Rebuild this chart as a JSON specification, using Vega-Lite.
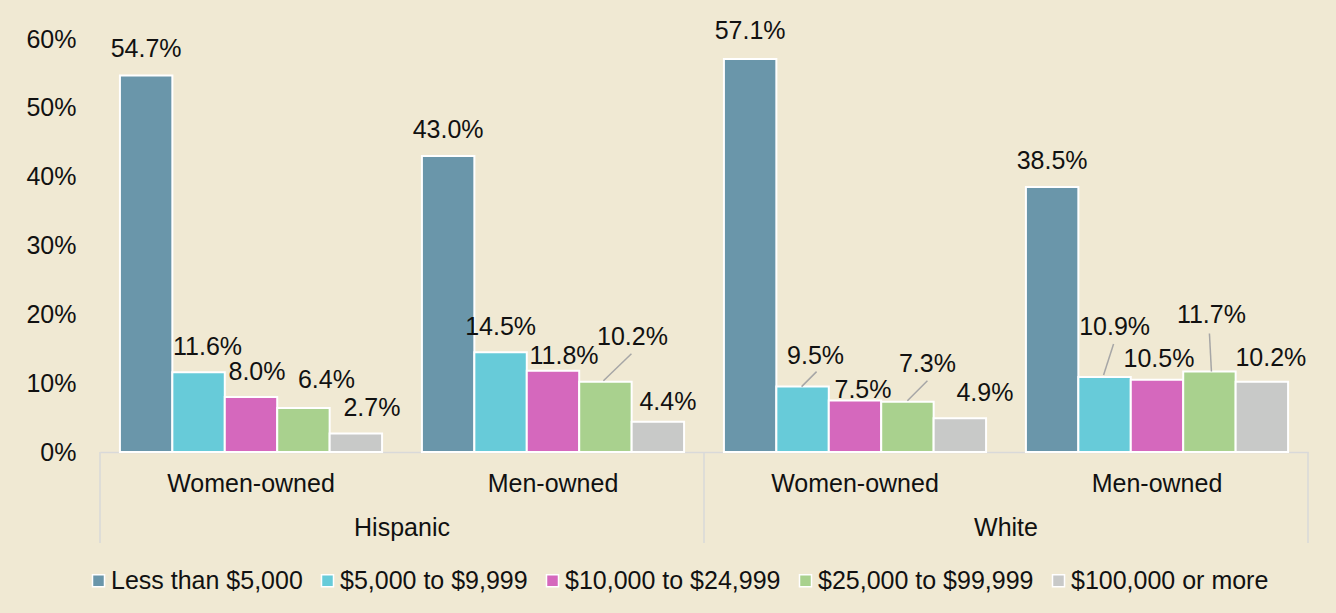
{
  "$schema": "https://vega.github.io/schema/vega-lite/v6.json",
  "width": 1208,
  "height": 413,
  "autosize": {"type": "none"},
  "padding": {"left": 100, "top": 39, "right": 28, "bottom": 161},
  "background": "#F0E9D3",
  "config": {"view": {"stroke": null}, "font": "Liberation Sans"},
  "datasets": {
    "bars": [
      {"id": 0, "race": "Hispanic", "gender": "Women-owned", "group": "Hispanic Women-owned", "income": "Less than $5,000", "value": 0.547},
      {"id": 1, "race": "Hispanic", "gender": "Women-owned", "group": "Hispanic Women-owned", "income": "$5,000 to $9,999", "value": 0.116},
      {"id": 2, "race": "Hispanic", "gender": "Women-owned", "group": "Hispanic Women-owned", "income": "$10,000 to $24,999", "value": 0.080},
      {"id": 3, "race": "Hispanic", "gender": "Women-owned", "group": "Hispanic Women-owned", "income": "$25,000 to $99,999", "value": 0.064},
      {"id": 4, "race": "Hispanic", "gender": "Women-owned", "group": "Hispanic Women-owned", "income": "$100,000 or more", "value": 0.027},
      {"id": 5, "race": "Hispanic", "gender": "Men-owned", "group": "Hispanic Men-owned", "income": "Less than $5,000", "value": 0.430},
      {"id": 6, "race": "Hispanic", "gender": "Men-owned", "group": "Hispanic Men-owned", "income": "$5,000 to $9,999", "value": 0.145},
      {"id": 7, "race": "Hispanic", "gender": "Men-owned", "group": "Hispanic Men-owned", "income": "$10,000 to $24,999", "value": 0.118},
      {"id": 8, "race": "Hispanic", "gender": "Men-owned", "group": "Hispanic Men-owned", "income": "$25,000 to $99,999", "value": 0.102},
      {"id": 9, "race": "Hispanic", "gender": "Men-owned", "group": "Hispanic Men-owned", "income": "$100,000 or more", "value": 0.044},
      {"id": 10, "race": "White", "gender": "Women-owned", "group": "White Women-owned", "income": "Less than $5,000", "value": 0.571},
      {"id": 11, "race": "White", "gender": "Women-owned", "group": "White Women-owned", "income": "$5,000 to $9,999", "value": 0.095},
      {"id": 12, "race": "White", "gender": "Women-owned", "group": "White Women-owned", "income": "$10,000 to $24,999", "value": 0.075},
      {"id": 13, "race": "White", "gender": "Women-owned", "group": "White Women-owned", "income": "$25,000 to $99,999", "value": 0.073},
      {"id": 14, "race": "White", "gender": "Women-owned", "group": "White Women-owned", "income": "$100,000 or more", "value": 0.049},
      {"id": 15, "race": "White", "gender": "Men-owned", "group": "White Men-owned", "income": "Less than $5,000", "value": 0.385},
      {"id": 16, "race": "White", "gender": "Men-owned", "group": "White Men-owned", "income": "$5,000 to $9,999", "value": 0.109},
      {"id": 17, "race": "White", "gender": "Men-owned", "group": "White Men-owned", "income": "$10,000 to $24,999", "value": 0.105},
      {"id": 18, "race": "White", "gender": "Men-owned", "group": "White Men-owned", "income": "$25,000 to $99,999", "value": 0.117},
      {"id": 19, "race": "White", "gender": "Men-owned", "group": "White Men-owned", "income": "$100,000 or more", "value": 0.102}
    ],
    "races": [
      {"race": "Hispanic", "start": "Hispanic Women-owned", "mid": "Hispanic Men-owned"},
      {"race": "White", "start": "White Women-owned", "mid": "White Men-owned"}
    ]
  },
  "layer": [
    {
      "data": {"name": "bars"},
      "mark": {"type": "bar", "stroke": "white", "strokeWidth": 2},
      "encoding": {
        "x": {
          "field": "group", "type": "nominal",
          "scale": {"domain": ["Hispanic Women-owned", "Hispanic Men-owned", "White Women-owned", "White Men-owned"], "paddingInner": 0, "paddingOuter": 0},
          "axis": {"title": null, "labelExpr": "split(datum.label, ' ')[1]", "ticks": false, "domainColor": "#D9D9D9", "domainWidth": 1.5, "labelFontSize": 25, "labelFont": "Liberation Sans", "labelColor": "#111111", "labelPadding": 31, "labelBaseline": "middle", "labelAngle": 0}
        },
        "xOffset": {
          "field": "income", "type": "nominal",
          "scale": {"domain": ["Less than $5,000", "$5,000 to $9,999", "$10,000 to $24,999", "$25,000 to $99,999", "$100,000 or more"], "paddingInner": 0, "paddingOuter": 0.38}
        },
        "y": {
          "field": "value", "type": "quantitative",
          "scale": {"domain": [0, 0.6], "nice": false},
          "axis": {"title": null, "format": ".0%", "values": [0, 0.1, 0.2, 0.3, 0.4, 0.5, 0.6], "grid": false, "domain": false, "ticks": false, "labelFontSize": 25, "labelFont": "Liberation Sans", "labelColor": "#111111", "labelPadding": 24}
        },
        "color": {
          "field": "income", "type": "nominal",
          "scale": {"domain": ["Less than $5,000", "$5,000 to $9,999", "$10,000 to $24,999", "$25,000 to $99,999", "$100,000 or more"], "range": ["#6A96AA", "#67CBD9", "#D568BD", "#A9D18E", "#C8C9C8"]},
          "legend": {"title": null, "orient": "none", "legendX": -14, "legendY": 529, "direction": "horizontal", "symbolType": "square", "symbolSize": 144, "symbolStrokeColor": "white", "symbolStrokeWidth": 1.5, "symbolOpacity": 1, "labelFontSize": 25, "labelFont": "Liberation Sans", "labelColor": "#111111", "labelOffset": 0, "columnPadding": 12, "labelLimit": 0}
        }
      }
    },
    {
      "data": {"name": "bars"},
      "mark": {
        "type": "text", "fontSize": 25, "font": "Liberation Sans", "color": "#111111", "baseline": "alphabetic",
        "dx": {"expr": "[0,9,6,23,16,0,0,11,27,10,0,13,8,20,25,0,10,2,2,9][datum.id]"},
        "dy": {"expr": "-[18,17,17,20,17,18,17,7,37,12,20,23,2,30,17,18,42,13,48,16][datum.id]"}
      },
      "encoding": {
        "x": {"field": "group", "type": "nominal"},
        "xOffset": {"field": "income", "type": "nominal"},
        "y": {"field": "value", "type": "quantitative"},
        "text": {"field": "value", "type": "quantitative", "format": ".1%"}
      }
    },
    {
      "data": {"name": "bars"},
      "transform": [{"filter": "indexof([8,11,13,16,18], datum.id) >= 0"}],
      "mark": {"type": "point", "filled": false, "stroke": "#A6A6A6", "strokeWidth": 1.5, "size": 6400, "opacity": 1},
      "encoding": {
        "x": {"field": "group", "type": "nominal"},
        "xOffset": {"field": "income", "type": "nominal"},
        "y": {"field": "value", "type": "quantitative"},
        "shape": {
          "field": "id", "type": "nominal",
          "scale": {"domain": [8, 11, 13, 16, 18], "range": ["M-0.05,-0.025L0.65,-0.7", "M-0.025,0L0.35,-0.375", "M0,-0.025L0.5,-0.525", "M-0.025,-0.05L0.225,-0.825", "M0.05,0L0,-0.95"]},
          "legend": null
        }
      }
    },
    {
      "data": {"name": "races"},
      "mark": {"type": "rule", "color": "#D9D9D9", "strokeWidth": 1.5, "y2Offset": 91},
      "encoding": {
        "x": {"field": "start", "type": "nominal", "bandPosition": 0},
        "y": {"datum": 0},
        "y2": {"datum": 0}
      }
    },
    {
      "data": {"name": "races"},
      "transform": [{"filter": "datum.race == 'White'"}],
      "mark": {"type": "rule", "color": "#D9D9D9", "strokeWidth": 1.5, "y2Offset": 91},
      "encoding": {
        "x": {"field": "mid", "type": "nominal", "bandPosition": 1},
        "y": {"datum": 0},
        "y2": {"datum": 0}
      }
    },
    {
      "data": {"name": "races"},
      "mark": {"type": "text", "fontSize": 25, "font": "Liberation Sans", "color": "#111111", "baseline": "middle", "dy": 76},
      "encoding": {
        "x": {"field": "mid", "type": "nominal", "bandPosition": 0},
        "y": {"datum": 0},
        "text": {"field": "race", "type": "nominal"}
      }
    }
  ]
}
